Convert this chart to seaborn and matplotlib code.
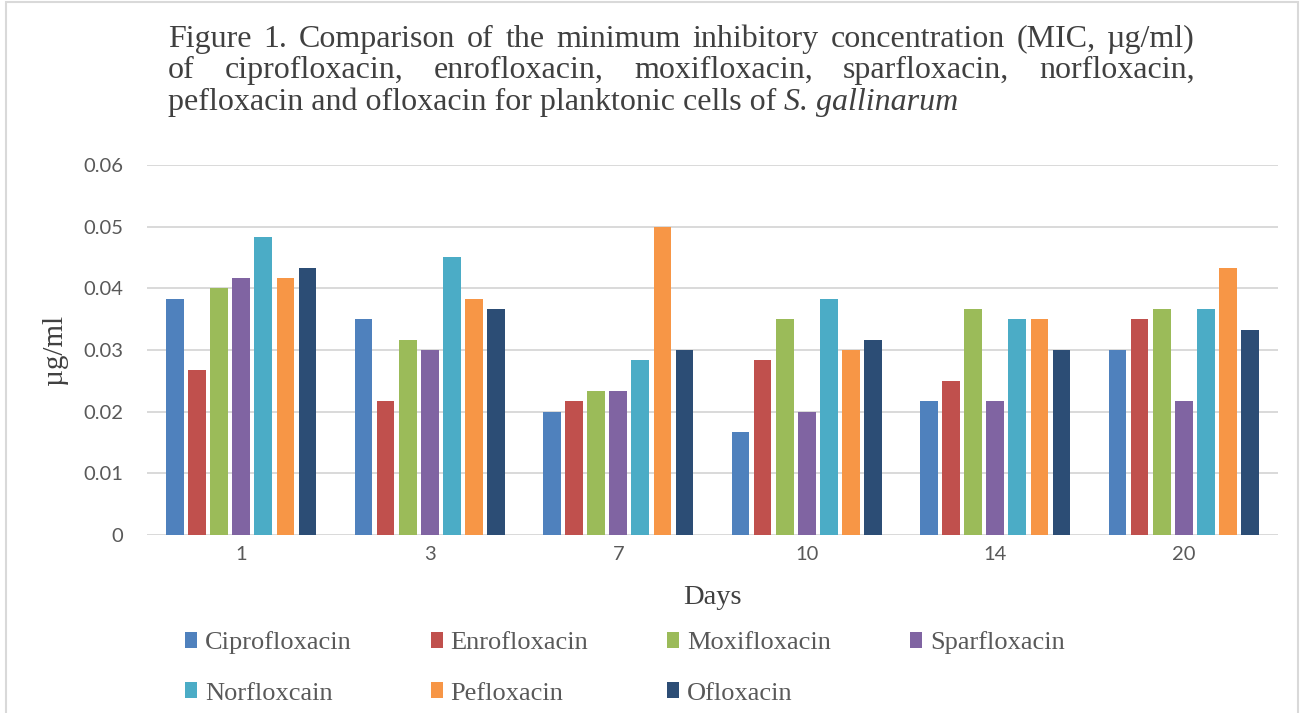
import numpy as np
import pandas as pd
import matplotlib
matplotlib.use("Agg")
import matplotlib.pyplot as plt
import seaborn as sns
from matplotlib.patches import Rectangle


# Data (MIC, ug/ml)
days = ["1", "3", "7", "10", "14", "20"]
drugs = ["Ciprofloxacin", "Enrofloxacin", "Moxifloxacin", "Sparfloxacin",
         "Norfloxcain", "Pefloxacin", "Ofloxacin"]

ciprofloxacin = [0.0383, 0.035, 0.02, 0.0167, 0.0217, 0.03]
enrofloxacin = [0.0267, 0.0217, 0.0217, 0.0283, 0.025, 0.035]
moxifloxacin = [0.04, 0.0317, 0.0233, 0.035, 0.0367, 0.0367]
sparfloxacin = [0.0417, 0.03, 0.0233, 0.02, 0.0217, 0.0217]
norfloxacin = [0.0483, 0.045, 0.0283, 0.0383, 0.035, 0.0367]
pefloxacin = [0.0417, 0.0383, 0.05, 0.03, 0.035, 0.0433]
ofloxacin = [0.0433, 0.0367, 0.03, 0.0317, 0.03, 0.0333]

yticks = [0, 0.01, 0.02, 0.03, 0.04, 0.05, 0.06]
ytick_labels = ["0", "0.01", "0.02", "0.03", "0.04", "0.05", "0.06"]

colors = ["#4F81BD", "#C0504D", "#9BBB59", "#8064A2",
          "#4BACC6", "#F79646", "#2C4D75"]

title_line1 = "Figure 1. Comparison of the minimum inhibitory concentration (MIC, µg/ml)"
title_line2 = "of ciprofloxacin, enrofloxacin, moxifloxacin, sparfloxacin, norfloxacin,"
title_line3 = "pefloxacin and ofloxacin for planktonic cells of "
title_italic = "S. gallinarum"

W, H = 1308, 713
SERIF = "Liberation Serif"
SANS = "Lato"
TEXT_DARK = "#404040"
TEXT_GREY = "#595959"
GRID = "#D9D9D9"


def build_frame():
    series = [ciprofloxacin, enrofloxacin, moxifloxacin, sparfloxacin,
              norfloxacin, pefloxacin, ofloxacin]
    rows = []
    for drug, vals in zip(drugs, series):
        for day, v in zip(days, vals):
            rows.append({"day": day, "drug": drug, "mic": v})
    return pd.DataFrame(rows)


def justify(fig, renderer, text, x0, x1, y, **kw):
    words = text.split()
    items = [fig.text(0, 1 - y / H, w, va="baseline", ha="left", **kw) for w in words]
    widths = [t.get_window_extent(renderer).width for t in items]
    gap = (x1 - x0 - sum(widths)) / (len(words) - 1)
    x = x0
    for t, w in zip(items, widths):
        t.set_x(x / W)
        x += w + gap


def main():
    sns.set_style("white")
    df = build_frame()

    fig = plt.figure(figsize=(W / 100, H / 100), dpi=100)
    ax = fig.add_axes([147 / W, 1 - 535 / H, (1278 - 147) / W, (535 - 165) / H])

    sns.barplot(data=df, x="day", y="mic", hue="drug", order=days,
                hue_order=drugs, palette=colors, width=0.82, gap=0.2,
                saturation=1, ax=ax, linewidth=0)

    ax.set_ylim(0, 0.06)
    ax.set_yticks(yticks, ytick_labels)
    ax.yaxis.grid(True, color=GRID, linewidth=1.4)
    ax.set_axisbelow(True)
    for s in ax.spines.values():
        s.set_visible(False)
    ax.tick_params(axis="both", length=0, labelcolor=TEXT_GREY, labelsize=14.5)
    ax.tick_params(axis="y", pad=17)
    ax.tick_params(axis="x", pad=8)
    for lab in ax.get_xticklabels() + ax.get_yticklabels():
        lab.set_family(SANS)

    ax.set_xlabel("Days", family=SERIF, fontsize=20.5, color=TEXT_DARK)
    ax.xaxis.set_label_coords(0.5, -0.134)
    ax.set_ylabel("µg/ml", family=SERIF, fontsize=21, color=TEXT_DARK)
    ax.yaxis.set_label_coords((68 - 147) / 1131, 0.5)

    # legend laid out row by row: matplotlib fills columns first, so reorder
    handles, labels = ax.get_legend_handles_labels()
    order = [0, 4, 1, 5, 2, 6, 3]
    ax.get_legend().remove()
    leg = fig.legend([handles[i] for i in order], [labels[i] for i in order],
                     loc="upper left", bbox_to_anchor=(185 / W, 1 - 631 / H),
                     ncol=4, frameon=False, borderpad=0, borderaxespad=0,
                     handlelength=0.45, handleheight=0.55, handletextpad=0.3,
                     columnspacing=3.0, labelspacing=1.07,
                     prop={"family": SERIF, "size": 19})
    for t in leg.get_texts():
        t.set_color(TEXT_GREY)

    # title, justified like the original caption
    renderer = fig.canvas.get_renderer()
    tkw = dict(family=SERIF, fontsize=23, color=TEXT_DARK)
    justify(fig, renderer, title_line1, 168, 1195, 46.7, **tkw)
    justify(fig, renderer, title_line2, 168, 1195, 78.3, **tkw)
    t3 = fig.text(168 / W, 1 - 110 / H, title_line3, va="baseline", ha="left", **tkw)
    w3 = t3.get_window_extent(renderer).width
    fig.text((168 + w3) / W, 1 - 110 / H, title_italic, va="baseline", ha="left",
             style="italic", **tkw)

    # light frame around the whole chart
    fig.patches.append(Rectangle((6 / W, -0.05), (1298 - 6) / W, 1.05 - 2 / H,
                                 transform=fig.transFigure, fill=False,
                                 edgecolor=GRID, linewidth=1.5))

    fig.savefig("out.png", dpi=100)
    plt.close(fig)


if __name__ == "__main__":
    main()
